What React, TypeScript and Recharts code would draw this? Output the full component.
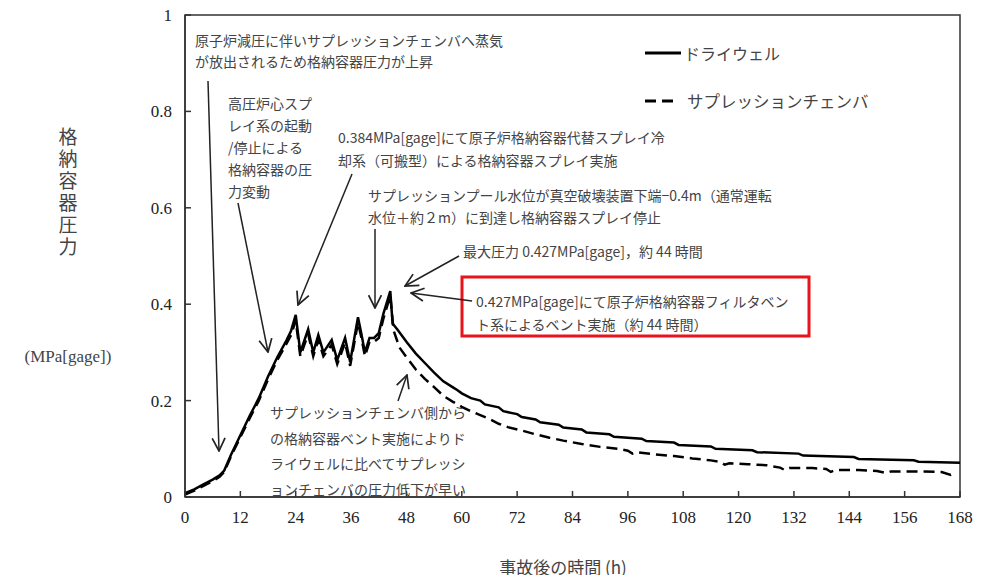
import { LineChart, Line, XAxis, YAxis, ReferenceArea } from 'recharts';

// hours after the accident
const TIME_TICKS = [0, 12, 24, 36, 48, 60, 72, 84, 96, 108, 120, 132, 144, 156, 168];
const PRESSURE_TICKS = [0, 0.2, 0.4, 0.6, 0.8, 1];

// drywell pressure (MPa[gage])
const DW_TIME = [
  0, 2, 4, 6, 7.5, 8.5, 10, 12, 14, 16, 18, 20, 22, 23, 24, 25, 26.7, 27.8, 28.9, 30, 31.8, 33, 34.7,
  35.8, 37.5, 38.2, 39, 40, 41, 42, 43, 44.5, 45, 46, 48, 50, 52, 54, 56, 58, 59, 60, 62, 64, 65, 68,
  69, 72, 73, 76, 77, 81, 82, 86, 87, 92, 93, 99, 100, 106, 107, 114, 115, 123, 124, 133, 134, 145,
  146, 158, 159, 168,
];
const DW_PRESSURE = [
  0.008, 0.016, 0.026, 0.036, 0.045, 0.055, 0.088, 0.128, 0.168, 0.205, 0.25, 0.29, 0.325, 0.345, 0.378,
  0.3, 0.348, 0.3, 0.336, 0.3, 0.326, 0.284, 0.33, 0.28, 0.373, 0.34, 0.3, 0.33, 0.33, 0.34, 0.38, 0.427,
  0.36, 0.348, 0.322, 0.298, 0.278, 0.258, 0.24, 0.228, 0.222, 0.215, 0.205, 0.2, 0.192, 0.186, 0.178,
  0.172, 0.166, 0.161, 0.155, 0.15, 0.144, 0.14, 0.134, 0.13, 0.125, 0.121, 0.116, 0.113, 0.108, 0.105,
  0.1, 0.097, 0.093, 0.09, 0.086, 0.083, 0.079, 0.076, 0.073, 0.071,
];

// suppression chamber pressure (MPa[gage])
const SC_TIME = [
  0, 2, 4, 6, 7.5, 8.5, 10, 12, 14, 16, 18, 20, 22, 23, 24, 25, 26.7, 27.8, 28.9, 30, 31.8, 33, 34.7,
  35.8, 37.5, 38.2, 39, 40, 41, 42, 43, 44.5, 45.2, 46.5, 48, 50, 52, 54, 56, 58, 60, 62, 64, 66, 68,
  70, 73, 76, 79, 82, 86, 90, 94, 96, 97, 98, 102, 106, 110, 114, 116, 117, 118, 122, 126, 129, 130,
  131, 136, 139, 140, 141, 146, 150, 152, 153, 158, 164, 166, 167,
];
const SC_PRESSURE = [
  0.005, 0.013, 0.023, 0.033, 0.042, 0.052, 0.085, 0.124, 0.163, 0.2, 0.244, 0.284, 0.318, 0.336, 0.366,
  0.292, 0.338, 0.292, 0.326, 0.292, 0.316, 0.276, 0.32, 0.272, 0.362, 0.332, 0.292, 0.322, 0.322, 0.33,
  0.37, 0.418, 0.346, 0.31, 0.29, 0.265, 0.245, 0.228, 0.21, 0.198, 0.187, 0.178, 0.17, 0.162, 0.152,
  0.145, 0.138, 0.13, 0.123, 0.117, 0.11, 0.104, 0.1, 0.096, 0.09, 0.093, 0.088, 0.085, 0.08, 0.076,
  0.073, 0.067, 0.07, 0.068, 0.066, 0.061, 0.056, 0.06, 0.06, 0.058, 0.052, 0.056, 0.056, 0.054, 0.05,
  0.053, 0.053, 0.052, 0.046, 0.05,
];

const drywell = DW_TIME.map((t, i) => ({ t, p: DW_PRESSURE[i] }));
const suppression = SC_TIME.map((t, i) => ({ t, p: SC_PRESSURE[i] }));

const JP = '"Noto Sans CJK JP", "Noto Sans", sans-serif';
const SERIF = '"Liberation Serif", "DejaVu Serif", serif';
const TEXT = '#444';

const tickStyle = { fontFamily: SERIF, fontSize: 17, fill: '#222' };

function Note({ x, y, lines, gap, size = 14 }: { x: number; y: number; lines: string[]; gap: number; size?: number }) {
  return (
    <text x={x} y={y} fontFamily={JP} fontSize={size} fill={TEXT} dominantBaseline="central">
      {lines.map((l, i) => (
        <tspan key={i} x={x} y={y + i * gap}>
          {l}
        </tspan>
      ))}
    </text>
  );
}

function Arrow({ x1, y1, x2, y2 }: { x1: number; y1: number; x2: number; y2: number }) {
  return <line x1={x1} y1={y1} x2={x2} y2={y2} stroke="#222" strokeWidth={1.5} markerEnd="url(#openArrow)" />;
}

function Annotations() {
  return (
    <svg width={988} height={583} style={{ position: 'absolute', left: 0, top: 0, pointerEvents: 'none' }}>
      <defs>
        <marker
          id="openArrow"
          viewBox="0 0 14 14"
          refX={13}
          refY={7}
          markerWidth={15}
          markerHeight={15}
          markerUnits="userSpaceOnUse"
          orient="auto"
        >
          <path d="M1,1 L13,7 L1,13" fill="none" stroke="#222" strokeWidth={1.6} />
        </marker>
      </defs>

      {/* legend */}
      <line x1={645} y1={53} x2={681} y2={53} stroke="#000" strokeWidth={3} />
      <text x={684} y={53} dominantBaseline="central" fontFamily={JP} fontSize={16} fill={TEXT}>
        ドライウェル
      </text>
      <line x1={645} y1={101} x2={675} y2={101} stroke="#000" strokeWidth={3} strokeDasharray="11 6" />
      <text x={687} y={101} dominantBaseline="central" fontFamily={JP} fontSize={16.5} fill={TEXT}>
        サプレッションチェンバ
      </text>

      {/* axis titles */}
      <text
        x={68}
        y={127}
        fontFamily={JP}
        fontSize={19}
        fill={TEXT}
        letterSpacing={3}
        style={{ writingMode: 'vertical-rl' }}
      >
        格納容器圧力
      </text>
      <text x={68} y={356} fontFamily={SERIF} fontSize={17} fill={TEXT} textAnchor="middle" dominantBaseline="central">
        (MPa[gage])
      </text>
      <text x={563} y={566} fontFamily={JP} fontSize={17} fill={TEXT} textAnchor="middle" dominantBaseline="central">
        事故後の時間 (h)
      </text>

      <Note x={195} y={40} gap={21} lines={['原子炉減圧に伴いサプレッションチェンバへ蒸気', 'が放出されるため格納容器圧力が上昇']} />
      <Arrow x1={208} y1={81} x2={219} y2={451} />

      <Note x={228} y={103} gap={22} lines={['高圧炉心スプ', 'レイ系の起動', '/停止による', '格納容器の圧', '力変動']} />
      <Arrow x1={238} y1={203} x2={268} y2={352} />

      <Note x={338} y={137} gap={23} lines={['0.384MPa[gage]にて原子炉格納容器代替スプレイ冷', '却系（可搬型）による格納容器スプレイ実施']} />
      <Arrow x1={352} y1={174} x2={298} y2={305} />

      <Note x={368} y={195} gap={22} lines={['サプレッションプール水位が真空破壊装置下端−0.4m（通常運転', '水位＋約２m）に到達し格納容器スプレイ停止']} />
      <Arrow x1={375} y1={229} x2={375} y2={308} />

      <Note x={463} y={251} gap={22} lines={['最大圧力 0.427MPa[gage]，約 44 時間']} />
      <Arrow x1={459} y1={256} x2={405} y2={286} />

      <rect x={462} y={277} width={347} height={59} fill="none" stroke="#e8141b" strokeWidth={3} />
      <Note x={476} y={301} gap={23} lines={['0.427MPa[gage]にて原子炉格納容器フィルタベン', 'ト系によるベント実施（約 44 時間）']} />
      <Arrow x1={472} y1={301} x2={411} y2={293} />

      <Note
        x={270}
        y={412}
        gap={25.5}
        lines={['サプレッションチェンバ側から', 'の格納容器ベント実施によりド', 'ライウェルに比べてサプレッシ', 'ョンチェンバの圧力低下が早い']}
      />
      <Arrow x1={398} y1={401} x2={407} y2={375} />
    </svg>
  );
}

export default function App() {
  return (
    <div style={{ position: 'relative', width: 988, height: 583, margin: -8, background: '#fff' }}>
      <LineChart width={988} height={583} margin={{ top: 15, right: 28, bottom: 56, left: 125 }}>
        <XAxis
          type="number"
          dataKey="t"
          domain={[0, 168]}
          ticks={TIME_TICKS}
          interval={0}
          height={30}
          tick={tickStyle}
          tickSize={-6}
          tickMargin={20}
          stroke="#333"
          strokeWidth={1.5}
        />
        <YAxis
          type="number"
          dataKey="p"
          domain={[0, 1]}
          ticks={PRESSURE_TICKS}
          interval={0}
          width={60}
          tick={tickStyle}
          tickSize={-6}
          tickMargin={19}
          tickFormatter={(v: number) => (v === 0 || v === 1 ? String(v) : v.toFixed(1))}
          stroke="#333"
          strokeWidth={1.5}
        />
        <ReferenceArea x1={0} x2={168} y1={0} y2={1} fill="none" fillOpacity={0} stroke="#333" strokeWidth={1.5} />
        <Line
          data={suppression}
          dataKey="p"
          name="サプレッションチェンバ"
          stroke="#000"
          strokeWidth={2.5}
          strokeDasharray="11 6"
          dot={false}
          isAnimationActive={false}
        />
        <Line
          data={drywell}
          dataKey="p"
          name="ドライウェル"
          stroke="#000"
          strokeWidth={2.5}
          dot={false}
          isAnimationActive={false}
        />
      </LineChart>
      <Annotations />
    </div>
  );
}
